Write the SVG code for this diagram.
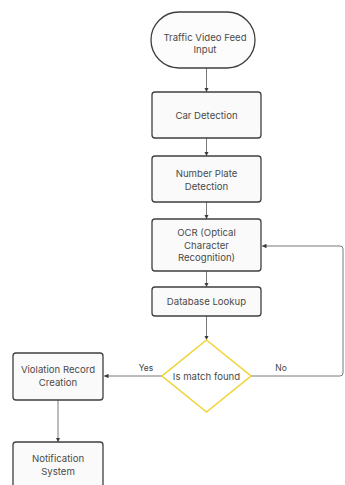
<svg xmlns="http://www.w3.org/2000/svg" width="345" height="485" viewBox="0 0 345 485">
  <style>
    .box { fill: #fafafa; stroke: #3f3f3f; stroke-width: 1.3; }
    .term { fill: #fcfcfc; stroke: #3f3f3f; stroke-width: 1.3; }
    .dec { fill: #ffffff; stroke: #f0d43a; stroke-width: 1.6; }
    .lbl { font-family: Inter, "Noto Sans", sans-serif; font-size: 9.6px; fill: #4a4a4a; text-anchor: middle; }
    .edge { fill: none; stroke: #6a6a6a; stroke-width: 0.9; }
    .elbl { font-family: Inter, "Noto Sans", sans-serif; font-size: 8.5px; fill: #444; text-anchor: middle; }
  </style>
  <defs>
    <marker id="arr" viewBox="0 0 8 8" refX="8" refY="4" markerWidth="5" markerHeight="5" orient="auto">
      <path d="M0,0 L8,4 L0,8 z" fill="#3a3a3a"/>
    </marker>
  </defs>
  <rect width="345" height="485" fill="#ffffff"/>

  <g id="connectors">
    <path class="edge" d="M206.5,68 V92" marker-end="url(#arr)"/>
    <path class="edge" d="M206.5,138 V156" marker-end="url(#arr)"/>
    <path class="edge" d="M206.5,202 V219" marker-end="url(#arr)"/>
    <path class="edge" d="M206.5,271 V287" marker-end="url(#arr)"/>
    <path class="edge" d="M206.5,316 V340" marker-end="url(#arr)"/>
    <path class="edge" d="M162,376 H104" marker-end="url(#arr)"/>
    <path class="edge" d="M251,376 H340 Q343,376 343,373 V249 Q343,246 340,246 H262" marker-end="url(#arr)"/>
    <path class="edge" d="M58,400 V442" marker-end="url(#arr)"/>
    <text class="elbl" x="146" y="371">Yes</text>
    <text class="elbl" x="281" y="371">No</text>
  </g>

  <g id="start">
    <rect class="term" x="151" y="12" width="104" height="56" rx="28" ry="28"/>
    <text class="lbl" x="205" y="41">Traffic Video Feed</text>
    <text class="lbl" x="205" y="53">Input</text>
  </g>

  <g id="car-detection">
    <rect class="box" x="152" y="92" width="109" height="46" rx="3"/>
    <text class="lbl" x="206.5" y="118.5">Car Detection</text>
  </g>

  <g id="plate-detection">
    <rect class="box" x="152" y="156" width="109" height="46" rx="3"/>
    <text class="lbl" x="206.5" y="177">Number Plate</text>
    <text class="lbl" x="206.5" y="190">Detection</text>
  </g>

  <g id="ocr">
    <rect class="box" x="152" y="219" width="109" height="52" rx="3"/>
    <text class="lbl" x="206.5" y="236">OCR (Optical</text>
    <text class="lbl" x="206.5" y="248.5">Character</text>
    <text class="lbl" x="206.5" y="261">Recognition)</text>
  </g>

  <g id="db-lookup">
    <rect class="box" x="152" y="287" width="109" height="29" rx="3"/>
    <text class="lbl" x="206.5" y="305">Database Lookup</text>
  </g>

  <g id="match">
    <path class="dec" d="M206.5,340 L251,376 L206.5,412 L162,376 Z"/>
    <text class="lbl" x="206.5" y="379.5">Is match found</text>
  </g>

  <g id="violation">
    <rect class="box" x="13" y="353" width="90" height="47" rx="3"/>
    <text class="lbl" x="58" y="373">Violation Record</text>
    <text class="lbl" x="58" y="385.5">Creation</text>
  </g>

  <g id="notification">
    <rect class="box" x="13" y="442" width="90" height="50" rx="3"/>
    <text class="lbl" x="58" y="462">Notification</text>
    <text class="lbl" x="58" y="474.5">System</text>
  </g>
</svg>
